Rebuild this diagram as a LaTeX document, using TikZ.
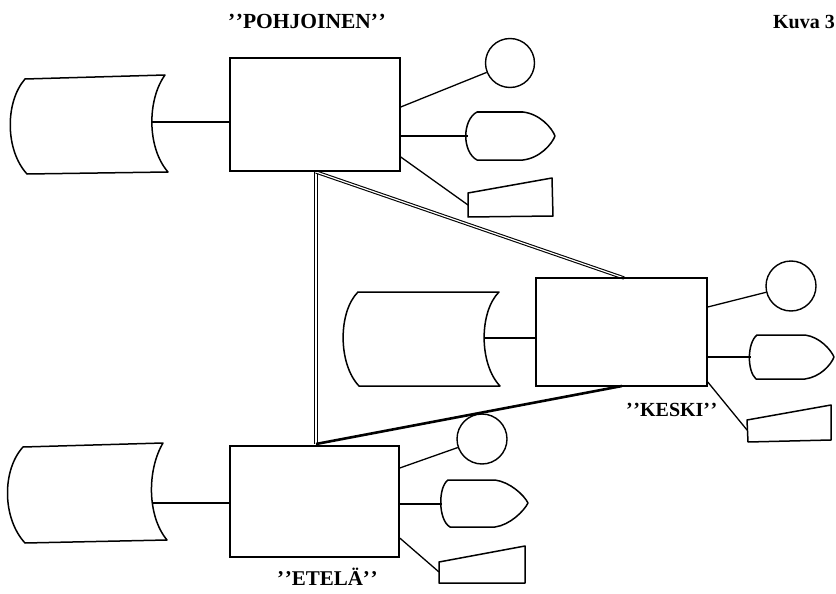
\documentclass[tikz,border=0pt]{standalone}
\usepackage{fontspec}
\setmainfont{Liberation Serif}
% closing-style double quote set as two spaced apostrophes
\newcommand{\dq}{’\kern0.6pt’}
\begin{document}
\begin{tikzpicture}[x=1pt,y=-1pt,
  unit/.style={draw, line width=1.5pt, rectangle, inner sep=0pt},
  outline/.style={draw, line width=1.5pt, line join=round},
  link/.style={draw, line width=1.3pt},
  disk/.style={draw, circle, line width=1.4pt, inner sep=0pt, minimum size=#1},
  tie/.style={draw, double, line width=1.1pt, double distance=1.2pt},
  heavy/.style={draw, line width=2.6pt},
  lbl/.style={font=\bfseries\fontsize{#1}{#1}\selectfont, inner sep=0pt}]
\useasboundingbox (0,0) rectangle (836,594);

% ---------- triangle of links between the three centres ----------
\coordinate (tA) at (316,172);
\coordinate (tB) at (316,444);
\coordinate (tC) at (624,278);
\coordinate (tD) at (622,386);
\draw[tie] (tA) -- (tB);
\draw[tie] (tA) -- (tC);
\draw[heavy] (tB) -- (tD);

% ---------- centre boxes ----------
\node[unit, minimum width=170pt, minimum height=113pt] (bN) at (315,114.5) {};
\node[unit, minimum width=171pt, minimum height=108pt] (bM) at (621.5,332) {};
\node[unit, minimum width=169pt, minimum height=111pt] (bS) at (314.5,501.5) {};

% ---------- storage drums on the left ----------
\draw[outline] (25,79) -- (165,75) .. controls (147,100) and (147,148) .. (168,172)
  -- (27,174) .. controls (5,150) and (5,102) .. cycle;
\coordinate (sN) at (152,122);
\draw[outline] (358,292) -- (499,292) .. controls (479,312) and (479,364) .. (500,386)
  -- (359,386) .. controls (338,364) and (338,312) .. cycle;
\coordinate (sM) at (484,338);
\draw[outline] (23,447) -- (163,443) .. controls (147,470) and (147,516) .. (167,540)
  -- (25,543) .. controls (2,518) and (2,470) .. cycle;
\coordinate (sS) at (152,503);

\draw[link] (sN) -- (sN -| bN.west);
\draw[link] (sM) -- (sM -| bM.west);
\draw[link] (sS) -- (sS -| bS.west);

% ---------- terminals: circle ----------
\node[disk=49pt] (cN) at (510,63) {};
\node[disk=50pt] (cM) at (791,286) {};
\node[disk=50pt] (cS) at (482,439) {};

% ---------- terminals: display (shield) ----------
\draw[outline] (477,112) -- (523,112) .. controls (540,114) and (552,128) .. (555,136)
  .. controls (552,144) and (540,158) .. (523,160) -- (477,160)
  .. controls (462,152) and (462,120) .. cycle;
\coordinate (dN) at (468,136);
\draw[outline] (757,335) -- (805,335) .. controls (820,337) and (831,350) .. (834,357)
  .. controls (831,365) and (820,377) .. (805,379) -- (756,379)
  .. controls (747,371) and (747,343) .. cycle;
\coordinate (dM) at (751,357);
\draw[outline] (448,480) -- (495,480) .. controls (510,482) and (524,495) .. (528,503)
  .. controls (524,511) and (510,525) .. (495,527) -- (450,527)
  .. controls (438,520) and (438,487) .. cycle;
\coordinate (dS) at (442,504);

% ---------- terminals: keyboard (slanted block) ----------
\draw[outline] (468,193) -- (552,178) -- (553,216) -- (468,217) -- cycle;
\coordinate (kN) at (468,205);
\draw[outline] (747,420) -- (831,405) -- (831,440) -- (748,442) -- cycle;
\coordinate (kM) at (747,430);
\draw[outline] (439,562) -- (525,546) -- (525,583) -- (439,583) -- cycle;
\coordinate (kS) at (439,572);

% ---------- attachment points on the boxes ----------
\coordinate (eN1) at (bN.east |- 0,107);
\coordinate (eN2) at (bN.east |- dN);
\coordinate (eN3) at (bN.east |- 0,157);
\coordinate (eM1) at (bM.east |- 0,307);
\coordinate (eM2) at (bM.east |- dM);
\coordinate (eM3) at (bM.east |- 0,382);
\coordinate (eS1) at (bS.east |- 0,468);
\coordinate (eS2) at (bS.east |- dS);
\coordinate (eS3) at (bS.east |- 0,538);

\draw[link] (eN1) -- (cN);
\draw[link] (eN2) -- (dN);
\draw[link] (eN3) -- (kN);
\draw[link] (eM1) -- (cM);
\draw[link] (eM2) -- (dM);
\draw[link] (eM3) -- (kM);
\draw[link] (eS1) -- (cS);
\draw[link] (eS2) -- (dS);
\draw[link] (eS3) -- (kS);

% ---------- labels ----------
\node[lbl=21.5, anchor=base west] (lN) at (228,29) {\dq POHJOINEN\dq};
\node[lbl=20, anchor=base east] (lK) at (835,29) {Kuva 3};
\node[lbl=20, anchor=base west] (lM) at (626,416) {\dq KESKI\dq};
\node[lbl=21, anchor=base west] (lS) at (277,585) {\dq ETELÄ\dq};
\end{tikzpicture}
\end{document}
